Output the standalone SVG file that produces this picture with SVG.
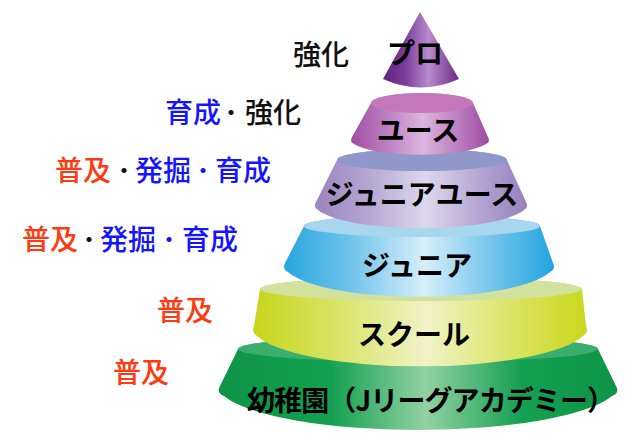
<svg xmlns="http://www.w3.org/2000/svg" width="627" height="439" viewBox="0 0 627 439">
  <style>
    text { font-family: "Noto Sans CJK JP", "Noto Sans", sans-serif; font-size: 28px; }
    .side { font-weight: 500; }
    .dot { font-size: 20px; font-weight: 700; }
    .tier { font-weight: 700; fill: #000; text-anchor: middle; }
    .red { fill: #ff3a10; }
    .blue { fill: #1414ff; }
    .blk { fill: #111; }
  </style>
  <defs>
    <linearGradient id="gGreen" x1="0" y1="0" x2="1" y2="0">
      <stop offset="0" stop-color="#0e9446"/>
      <stop offset="0.28" stop-color="#14a052"/>
      <stop offset="0.52" stop-color="#92d1a2"/>
      <stop offset="0.76" stop-color="#14a052"/>
      <stop offset="1" stop-color="#0e9446"/>
    </linearGradient>
    <linearGradient id="gYellow" x1="0" y1="0" x2="1" y2="0">
      <stop offset="0" stop-color="#c6d61a"/>
      <stop offset="0.25" stop-color="#d9e466"/>
      <stop offset="0.52" stop-color="#f0f2c6"/>
      <stop offset="0.78" stop-color="#dbe462"/>
      <stop offset="1" stop-color="#c9d81c"/>
    </linearGradient>
    <linearGradient id="gBlue" x1="0" y1="0" x2="1" y2="0">
      <stop offset="0" stop-color="#27a6df"/>
      <stop offset="0.25" stop-color="#72c4ec"/>
      <stop offset="0.52" stop-color="#d6eefa"/>
      <stop offset="0.78" stop-color="#70c3ec"/>
      <stop offset="1" stop-color="#22a4df"/>
    </linearGradient>
    <linearGradient id="gLav" x1="0" y1="0" x2="1" y2="0">
      <stop offset="0" stop-color="#9a84bf"/>
      <stop offset="0.25" stop-color="#b4a6d2"/>
      <stop offset="0.52" stop-color="#ddd7ed"/>
      <stop offset="0.78" stop-color="#b3a5d2"/>
      <stop offset="1" stop-color="#9580bd"/>
    </linearGradient>
    <linearGradient id="gYouth" x1="0" y1="0" x2="1" y2="0">
      <stop offset="0" stop-color="#a04fa4"/>
      <stop offset="0.25" stop-color="#bb7dbf"/>
      <stop offset="0.52" stop-color="#dbb6de"/>
      <stop offset="0.78" stop-color="#bb7cbf"/>
      <stop offset="1" stop-color="#9d4ca2"/>
    </linearGradient>
    <linearGradient id="gPro" x1="0" y1="0" x2="1" y2="0">
      <stop offset="0" stop-color="#62237f"/>
      <stop offset="0.3" stop-color="#7d3d9c"/>
      <stop offset="0.6" stop-color="#b88bcc"/>
      <stop offset="1" stop-color="#6a2a88"/>
    </linearGradient>
  </defs>

  <!-- pyramid tiers, drawn bottom-up so each tier sits in the one below -->
  <g id="tier-kindergarten">
    <path d="M238,349 A180,13 0 0 1 598,349 L616,386 Q620,393 612,396 A201,46 0 0 1 224,396 Q216,393 220,386 Z" fill="url(#gGreen)"/>
    <ellipse cx="418" cy="349" rx="180" ry="13" fill="#3aae6c"/>
  </g>
  <g id="tier-school">
    <path d="M260,289 A161,12 0 0 1 582,289 L586,326 Q589,332 583,336 A168,40 0 0 1 257,336 Q251,332 254,326 Z" fill="url(#gYellow)"/>
    <ellipse cx="421" cy="289" rx="161" ry="12" fill="#d2e29e"/>
  </g>
  <g id="tier-junior">
    <path d="M304,226 A118,11 0 0 1 540,226 L553,263 Q556,269 550,272 A136,34 0 0 1 288,272 Q282,269 285,263 Z" fill="url(#gBlue)"/>
    <ellipse cx="422" cy="226" rx="118" ry="11" fill="#a8d6ee"/>
  </g>
  <g id="tier-junior-youth">
    <path d="M337,160 A85,11 0 0 1 507,160 L526,202 Q529,207 524,210 A107,25 0 0 1 318,210 Q313,207 316,202 Z" fill="url(#gLav)"/>
    <ellipse cx="422" cy="160" rx="85" ry="11" fill="#8f97cb"/>
  </g>
  <g id="tier-youth">
    <path d="M371,103 A51,10 0 0 1 473,103 L488,137 Q491,142 486,144 A70,16 0 0 1 354,144 Q349,142 352,137 Z" fill="url(#gYouth)"/>
    <ellipse cx="422" cy="103" rx="51" ry="10" fill="#c477b9"/>
  </g>
  <g id="tier-pro">
    <path d="M420,12 L459,79 Q421,96 383,79 Z" fill="url(#gPro)"/>
  </g>

  <!-- tier names -->
  <g id="labels-tiers">
    <text class="tier" x="415" y="64">プロ</text>
    <text class="tier" x="418" y="141">ユース</text>
    <text class="tier" x="422" y="205">ジュニアユース</text>
    <text class="tier" x="417" y="276">ジュニア</text>
    <text class="tier" x="414" y="345">スクール</text>
    <text class="tier" x="431" y="411" textLength="368" lengthAdjust="spacing">幼稚園（Jリーグアカデミー）</text>
  </g>

  <!-- aims for each tier -->
  <g id="labels-aims" class="side">
    <text x="293" y="65" class="blk">強化</text>
    <text y="123"><tspan x="165" class="blue">育成</tspan><tspan x="221" y="120" class="blk dot">・</tspan><tspan x="245" y="123" class="blk">強化</tspan></text>
    <text y="181"><tspan x="55" class="red">普及</tspan><tspan x="114" y="178" class="blk dot">・</tspan><tspan x="135" y="181" class="blue">発掘</tspan><tspan x="193" y="178" class="blue dot">・</tspan><tspan x="215" y="181" class="blue">育成</tspan></text>
    <text y="250"><tspan x="22" class="red">普及</tspan><tspan x="79" y="247" class="blk dot">・</tspan><tspan x="100" y="250" class="blue">発掘</tspan><tspan x="159" y="247" class="blue dot">・</tspan><tspan x="182" y="250" class="blue">育成</tspan></text>
    <text x="157" y="321" class="red">普及</text>
    <text x="113" y="383" class="red">普及</text>
  </g>
</svg>
